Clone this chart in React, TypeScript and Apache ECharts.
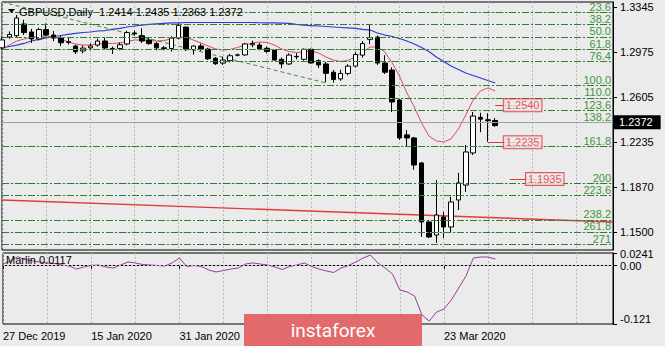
import React, { useEffect, useRef } from "react";
import * as echarts from "echarts";

const dates: string[] = [
  "27 Dec 2019","30 Dec 2019","31 Dec 2019","2 Jan 2020","3 Jan 2020","6 Jan 2020","7 Jan 2020","8 Jan 2020","9 Jan 2020","10 Jan 2020",
  "13 Jan 2020","14 Jan 2020","15 Jan 2020","16 Jan 2020","17 Jan 2020","20 Jan 2020","21 Jan 2020","22 Jan 2020","23 Jan 2020","24 Jan 2020",
  "27 Jan 2020","28 Jan 2020","29 Jan 2020","30 Jan 2020","31 Jan 2020","3 Feb 2020","4 Feb 2020","5 Feb 2020","6 Feb 2020","7 Feb 2020",
  "10 Feb 2020","11 Feb 2020","12 Feb 2020","13 Feb 2020","14 Feb 2020","17 Feb 2020","18 Feb 2020","19 Feb 2020","20 Feb 2020","21 Feb 2020",
  "24 Feb 2020","25 Feb 2020","26 Feb 2020","27 Feb 2020","28 Feb 2020","2 Mar 2020","3 Mar 2020","4 Mar 2020","5 Mar 2020","6 Mar 2020",
  "9 Mar 2020","10 Mar 2020","11 Mar 2020","12 Mar 2020","13 Mar 2020","16 Mar 2020","17 Mar 2020","18 Mar 2020","19 Mar 2020","20 Mar 2020",
  "23 Mar 2020","24 Mar 2020","25 Mar 2020","26 Mar 2020","27 Mar 2020","30 Mar 2020","31 Mar 2020","1 Apr 2020",
  "2 Apr 2020","3 Apr 2020","6 Apr 2020","7 Apr 2020","8 Apr 2020","9 Apr 2020","10 Apr 2020","13 Apr 2020","14 Apr 2020","15 Apr 2020",
  "16 Apr 2020","17 Apr 2020","20 Apr 2020","21 Apr 2020","22 Apr 2020","23 Apr 2020"
];
// date labels that are visible (the others sit under the logo)
const labelledDates = ["27 Dec 2019", "15 Jan 2020", "31 Jan 2020", "23 Mar 2020"];

const opens = [
  1.3010,1.3099,1.3110,1.3206,1.3140,1.3083,1.3160,1.3115,1.3090,1.3055,
  1.3025,1.2985,1.3010,1.3033,1.3066,1.3005,1.3005,1.3042,1.3132,1.3110,
  1.3075,1.3045,1.3010,1.3005,1.3090,1.3180,1.2995,1.3025,1.3000,1.2925,
  1.2885,1.2905,1.2950,1.2952,1.3035,1.3033,1.3006,1.2992,1.2916,1.2878,
  1.2940,1.2916,1.2998,1.2905,1.2878,1.2810,1.2755,1.2800,1.2860,1.2950,
  1.3080,1.3099,1.2886,1.2828,1.2582,1.2296,1.2271,1.2066,1.1582,1.1475,
  1.1623,1.1541,1.1762,1.1885,1.2148,1.2440,1.2420,1.2414
];
const highs = [
  1.3100,1.3145,1.3280,1.3240,1.3165,1.3175,1.3210,1.3148,1.3110,1.3090,
  1.3035,1.3030,1.3045,1.3085,1.3095,1.3020,1.3055,1.3150,1.3152,1.3170,
  1.3090,1.3060,1.3025,1.3105,1.3210,1.3185,1.3030,1.3045,1.3010,1.2935,
  1.2937,1.2960,1.2962,1.3050,1.3070,1.3052,1.3020,1.3000,1.2930,1.2965,
  1.2967,1.3005,1.3005,1.2916,1.2894,1.2830,1.2830,1.2875,1.2975,1.3065,
  1.3200,1.3110,1.2950,1.2850,1.2600,1.2336,1.2280,1.2074,1.1600,1.1926,
  1.1664,1.1790,1.1985,1.2213,1.2484,1.2478,1.2474,1.2435
];
const lows = [
  1.2995,1.3085,1.3100,1.3115,1.3050,1.3070,1.3105,1.3065,1.3025,1.3038,
  1.2960,1.2965,1.2990,1.3020,1.2995,1.2960,1.2990,1.3030,1.3110,1.3050,
  1.3035,1.2990,1.2990,1.2980,1.3080,1.2985,1.2955,1.2985,1.2910,1.2870,
  1.2870,1.2890,1.2940,1.2945,1.3015,1.2990,1.2965,1.2905,1.2843,1.2870,
  1.2915,1.2905,1.2880,1.2845,1.2728,1.2725,1.2740,1.2785,1.2850,1.2930,
  1.3040,1.2870,1.2795,1.2484,1.2254,1.2200,1.2010,1.1460,1.1451,1.1410,
  1.1451,1.1500,1.1680,1.1828,1.2131,1.2318,1.2240,1.2363
];
const closes = [
  1.3075,1.3120,1.3255,1.3135,1.3083,1.3160,1.3115,1.3090,1.3052,1.3060,
  1.2978,1.3008,1.3025,1.3066,1.3009,1.2998,1.3035,1.3135,1.3125,1.3066,
  1.3045,1.3010,1.3005,1.3090,1.3195,1.2995,1.3025,1.3000,1.2920,1.2880,
  1.2910,1.2945,1.2952,1.3042,1.3045,1.3000,1.2980,1.2910,1.2878,1.2951,
  1.2937,1.2998,1.2886,1.2870,1.2801,1.2750,1.2800,1.2860,1.2955,1.3045,
  1.3095,1.2886,1.2810,1.2566,1.2271,1.2271,1.2049,1.1582,1.1459,1.1639,
  1.1541,1.1746,1.1902,1.2156,1.2451,1.2425,1.2412,1.2372
];

const maFast = [
  1.3001,1.3033,1.3066,1.3083,1.3095,1.3103,1.3107,1.3099,1.3083,1.3058,
  1.3042,1.3033,1.3033,1.3042,1.3046,1.3046,1.3050,1.3062,1.3074,1.3074,
  1.3070,1.3066,1.3070,1.3083,1.3099,1.3095,1.3074,1.3050,1.3025,1.3001,
  1.2992,1.2997,1.3013,1.3033,1.3050,1.3058,1.3054,1.3033,1.3001,1.2980,
  1.2972,1.2976,1.2984,1.2968,1.2935,1.2910,1.2898,1.2906,1.2935,1.2976,
  1.3017,1.3017,1.2976,1.2886,1.2779,1.2640,1.2525,1.2394,1.2287,1.2246,
  1.2238,1.2263,1.2345,1.2459,1.2582,1.2656,1.2681,1.2656
];
const maSlow = [
  1.3009,1.3021,1.3033,1.3046,1.3066,1.3079,1.3091,1.3103,1.3111,1.3120,
  1.3128,1.3136,1.3140,1.3148,1.3152,1.3161,1.3169,1.3181,1.3189,1.3197,
  1.3202,1.3206,1.3210,1.3214,1.3214,1.3218,1.3218,1.3218,1.3218,1.3218,
  1.3218,1.3218,1.3218,1.3218,1.3218,1.3216,1.3214,1.3214,1.3212,1.3210,
  1.3202,1.3197,1.3193,1.3189,1.3185,1.3181,1.3177,1.3173,1.3169,1.3161,
  1.3156,1.3132,1.3115,1.3103,1.3087,1.3066,1.3042,1.3013,1.2980,1.2935,
  1.2898,1.2861,1.2833,1.2804,1.2783,1.2763,1.2742,1.2722
];
const marlin = [
  0.0016,0.0078,0.0165,0.0108,0.0078,0.0057,0.0037,0.0027,-0.0004,-0.0025,
  -0.0086,-0.0045,-0.0014,-0.0004,-0.0045,-0.0066,-0.0004,0.0057,0.0037,0.0006,
  -0.0004,-0.0014,-0.0025,0.0037,0.0139,-0.0035,-0.0014,-0.0035,-0.0106,-0.0147,
  -0.0117,-0.0086,-0.0066,0.0016,0.0037,0.0016,-0.0004,-0.0045,-0.0096,-0.0035,
  -0.0004,0.0037,-0.0035,-0.0086,-0.0127,-0.0158,-0.0066,-0.0014,0.0057,0.0139,
  0.0200,0.0037,-0.0066,-0.0188,-0.0515,-0.0556,-0.0638,-0.1026,-0.1149,-0.0965,
  -0.0904,-0.0720,-0.0474,-0.0229,0.0139,0.0159,0.0159,0.0117
];

const priceTicks = [1.3345, 1.2975, 1.2605, 1.2235, 1.187, 1.15];
const priceTickLabels = ["1.3345", "1.2975", "1.2605", "1.2235", "1.1870", "1.1500"];
const marlinTicks = [0.0241, 0, -0.121];
const marlinTickLabels = ["0.0241", "0.00", "-0.121"];
const fibLabels = ["23.6","38.2","50.0","61.8","76.4","100.0","110.0","123.6","138.2","161.8","200","223.6","238.2","261.8","271"];
const fibPrices = [1.3321,1.3206,1.3113,1.3020,1.2906,1.2720,1.2642,1.2535,1.2420,1.2235,1.1935,1.1750,1.1635,1.1450,1.1378];
const currentPrice = 1.2372;
const targetLabels = ["1.2540", "1.2235", "1.1935"];
const targetPrices = [1.254, 1.2235, 1.1935];
const targetLineFrom = [67, 66, 69];
const targetLineTo = [73, 73, 76];
const targetBoxAt = [71, 71, 74];
const fibBaseLine = [[0, 1.3386], [44, 1.2722]];
const longTrendLine = [[0, 1.1762], [83, 1.1582]];
const titleText = "GBPUSD,Daily  1.2414 1.2435 1.2363 1.2372";
const indicatorText = "Marlin 0.0117";
const logoText = "instaforex";

const FONT = "'Liberation Sans', Arial, sans-serif";
const BG = "#ebebeb";

export default function App() {
  const ref = useRef<HTMLDivElement>(null);

  useEffect(() => {
    document.body.style.margin = "0";
    document.body.style.background = BG;
    const chart = echarts.init(ref.current!, null, { renderer: "svg" });

    const candles = opens.map((o, i) => [o, closes[i], lows[i], highs[i]]);
    const showDate = (i: number) => labelledDates.indexOf(dates[i]) >= 0;
    const gridSplit = {
      show: true,
      interval: (i: number) => i % 6 === 0,
      lineStyle: { color: "#b8b8b8", type: [2, 2] as any, width: 1 },
    };

    const levelLines: any[] = [];
    priceTicks.forEach((v) =>
      levelLines.push({ yAxis: v, lineStyle: { color: "#bdbdbd", type: [2, 2], width: 1 }, label: { show: false } })
    );
    fibPrices.forEach((v, i) =>
      levelLines.push({
        yAxis: v,
        lineStyle: { color: "#2f7f2f", type: [7, 2, 2, 2], width: 1 },
        label: {
          show: true,
          position: "insideEndTop",
          formatter: fibLabels[i],
          color: "#3d963d",
          fontSize: 11,
          fontFamily: FONT,
          distance: [2, 0],
        },
      })
    );
    levelLines.push({
      yAxis: currentPrice,
      lineStyle: { color: "#a0a0a0", type: "solid", width: 1 },
      label: {
        show: true,
        position: "end",
        formatter: currentPrice.toFixed(4),
        color: "#ffffff",
        backgroundColor: "#000000",
        padding: [2, 8, 1, 5],
        fontSize: 11,
        fontFamily: FONT,
        distance: 1,
      },
    });
    targetPrices.forEach((p, i) =>
      levelLines.push([
        { coord: [targetLineFrom[i], p], lineStyle: { color: "#e03a3a", type: "solid", width: 1 }, label: { show: false } },
        { coord: [targetLineTo[i], p] },
      ])
    );

    chart.setOption({
      animation: false,
      backgroundColor: BG,
      textStyle: { fontFamily: FONT },
      grid: [
        { left: 2, right: 52, top: 2, height: 248, show: true, borderColor: "#000", borderWidth: 1, backgroundColor: "transparent" },
        { left: 2, right: 52, top: 253, height: 71, show: true, borderColor: "#000", borderWidth: 1, backgroundColor: "transparent" },
      ],
      xAxis: [
        {
          type: "category",
          gridIndex: 0,
          data: dates,
          boundaryGap: false,
          axisLine: { show: false },
          axisTick: { show: false },
          axisLabel: { show: false },
          splitLine: gridSplit,
        },
        {
          type: "category",
          gridIndex: 1,
          data: dates,
          boundaryGap: false,
          axisLine: { show: true, lineStyle: { color: "#000" } },
          axisTick: {
            show: true,
            length: 4,
            interval: showDate,
            lineStyle: { color: "#000" },
          },
          axisLabel: {
            show: true,
            interval: showDate,
            align: "left",
            margin: 6,
            color: "#000",
            fontSize: 11,
            fontFamily: FONT,
            hideOverlap: false,
          },
          splitLine: gridSplit,
        },
      ],
      yAxis: [
        {
          type: "value",
          gridIndex: 0,
          position: "right",
          min: 1.1352,
          max: 1.3386,
          axisLine: { show: true, lineStyle: { color: "#000" } },
          axisTick: { show: true, length: 4, customValues: priceTicks, lineStyle: { color: "#000" } },
          axisLabel: {
            show: true,
            customValues: priceTicks,
            formatter: (v: number) => {
              const k = priceTicks.findIndex((t) => Math.abs(t - v) < 1e-6);
              return k >= 0 ? priceTickLabels[k] : "";
            },
            margin: 7,
            color: "#000",
            fontSize: 11,
            fontFamily: FONT,
          },
          splitLine: { show: false },
        },
        {
          type: "value",
          gridIndex: 1,
          position: "right",
          min: -0.121,
          max: 0.0241,
          axisLine: { show: true, lineStyle: { color: "#000" } },
          axisTick: { show: true, length: 4, customValues: marlinTicks, lineStyle: { color: "#000" } },
          axisLabel: {
            show: true,
            showMaxLabel: true,
            showMinLabel: true,
            hideOverlap: false,
            customValues: marlinTicks,
            formatter: (v: number) => {
              const k = marlinTicks.findIndex((t) => Math.abs(t - v) < 1e-6);
              if (k === 0) return "{t|" + marlinTickLabels[0] + "}";
              if (k === 2) return "{b|" + marlinTickLabels[2] + "}";
              if (k === 1) return "{m|" + marlinTickLabels[1] + "}";
              return "";
            },
            rich: {
              t: { padding: [2, 0, 0, 0], fontSize: 11, color: "#000", fontFamily: FONT },
              b: { padding: [0, 0, 11, 0], fontSize: 11, color: "#000", fontFamily: FONT },
              m: { padding: [2, 0, 0, 0], fontSize: 11, color: "#000", fontFamily: FONT },
            },
            margin: 7,
          },
          splitLine: { show: false },
        },
      ],
      series: [
        {
          name: "levels",
          type: "line",
          xAxisIndex: 0,
          yAxisIndex: 0,
          data: [],
          z: 1,
          markLine: { silent: true, symbol: ["none", "none"], animation: false, data: levelLines },
        },
        {
          name: "trend",
          type: "line",
          xAxisIndex: 0,
          yAxisIndex: 0,
          data: longTrendLine,
          symbol: "none",
          lineStyle: { color: "#e03c3c", width: 1.4 },
          z: 2,
        },
        {
          name: "fibBase",
          type: "line",
          xAxisIndex: 0,
          yAxisIndex: 0,
          data: fibBaseLine,
          symbol: "none",
          lineStyle: { color: "#3a8a3a", width: 1, type: [4, 3] },
          z: 2,
        },
        {
          name: "slow",
          type: "line",
          xAxisIndex: 0,
          yAxisIndex: 0,
          data: maSlow,
          symbol: "none",
          lineStyle: { color: "#2d3ccf", width: 1.2 },
          z: 3,
        },
        {
          name: "fast",
          type: "line",
          xAxisIndex: 0,
          yAxisIndex: 0,
          data: maFast,
          symbol: "none",
          lineStyle: { color: "#dc4a5e", width: 1 },
          z: 3,
        },
        {
          name: "GBPUSD",
          type: "candlestick",
          xAxisIndex: 0,
          yAxisIndex: 0,
          data: candles,
          barWidth: 5,
          z: 4,
          itemStyle: { color: "#ffffff", color0: "#000000", borderColor: "#000000", borderColor0: "#000000", borderWidth: 1 },
        },
        {
          name: "targets",
          type: "scatter",
          xAxisIndex: 0,
          yAxisIndex: 0,
          data: targetPrices.map((p, i) => [targetBoxAt[i], p]),
          symbolSize: 1,
          itemStyle: { color: "transparent" },
          z: 5,
          label: {
            show: true,
            position: "inside",
            offset: [-2, 0],
            formatter: (p: any) => targetLabels[p.dataIndex],
            color: "#e03030",
            borderColor: "#e03030",
            borderWidth: 1,
            backgroundColor: BG,
            padding: [1, 2, 0, 2],
            fontSize: 11,
            fontFamily: FONT,
          },
        },
        {
          name: "Marlin",
          type: "line",
          xAxisIndex: 1,
          yAxisIndex: 1,
          data: marlin,
          symbol: "none",
          lineStyle: { color: "#9a3c9a", width: 1 },
          z: 3,
          markLine: {
            silent: true,
            symbol: ["none", "none"],
            animation: false,
            data: [{ yAxis: 0, lineStyle: { color: "#b8b8b8", type: [2, 2], width: 1 }, label: { show: false } }],
          },
        },
      ],
      graphic: [
        { type: "polygon", shape: { points: [[8, 9], [15, 9], [11.5, 13]] }, style: { fill: "#000" }, z: 10 },
        {
          type: "text",
          x: 19,
          y: 12,
          style: { text: titleText, fill: "#000", font: `11px ${FONT}`, verticalAlign: "middle" },
          z: 10,
        },
        {
          type: "text",
          x: 6,
          y: 260,
          style: { text: indicatorText, fill: "#000", font: `11px ${FONT}`, verticalAlign: "middle" },
          z: 10,
        },
        {
          type: "group",
          z: 20,
          children: [
            { type: "rect", shape: { x: 244, y: 314, width: 178, height: 32 }, style: { fill: "#e36a6a" }, z: 20 },
            {
              type: "text",
              x: 333,
              y: 330,
              style: {
                text: logoText,
                fill: "#ffffff",
                font: "19px Roboto, 'Open Sans', sans-serif",
                align: "center",
                verticalAlign: "middle",
              },
              z: 21,
            },
          ],
        },
      ],
    });

    return () => chart.dispose();
  }, []);

  return <div ref={ref} style={{ width: 665, height: 346, position: "absolute", left: 0, top: 0 }} />;
}
